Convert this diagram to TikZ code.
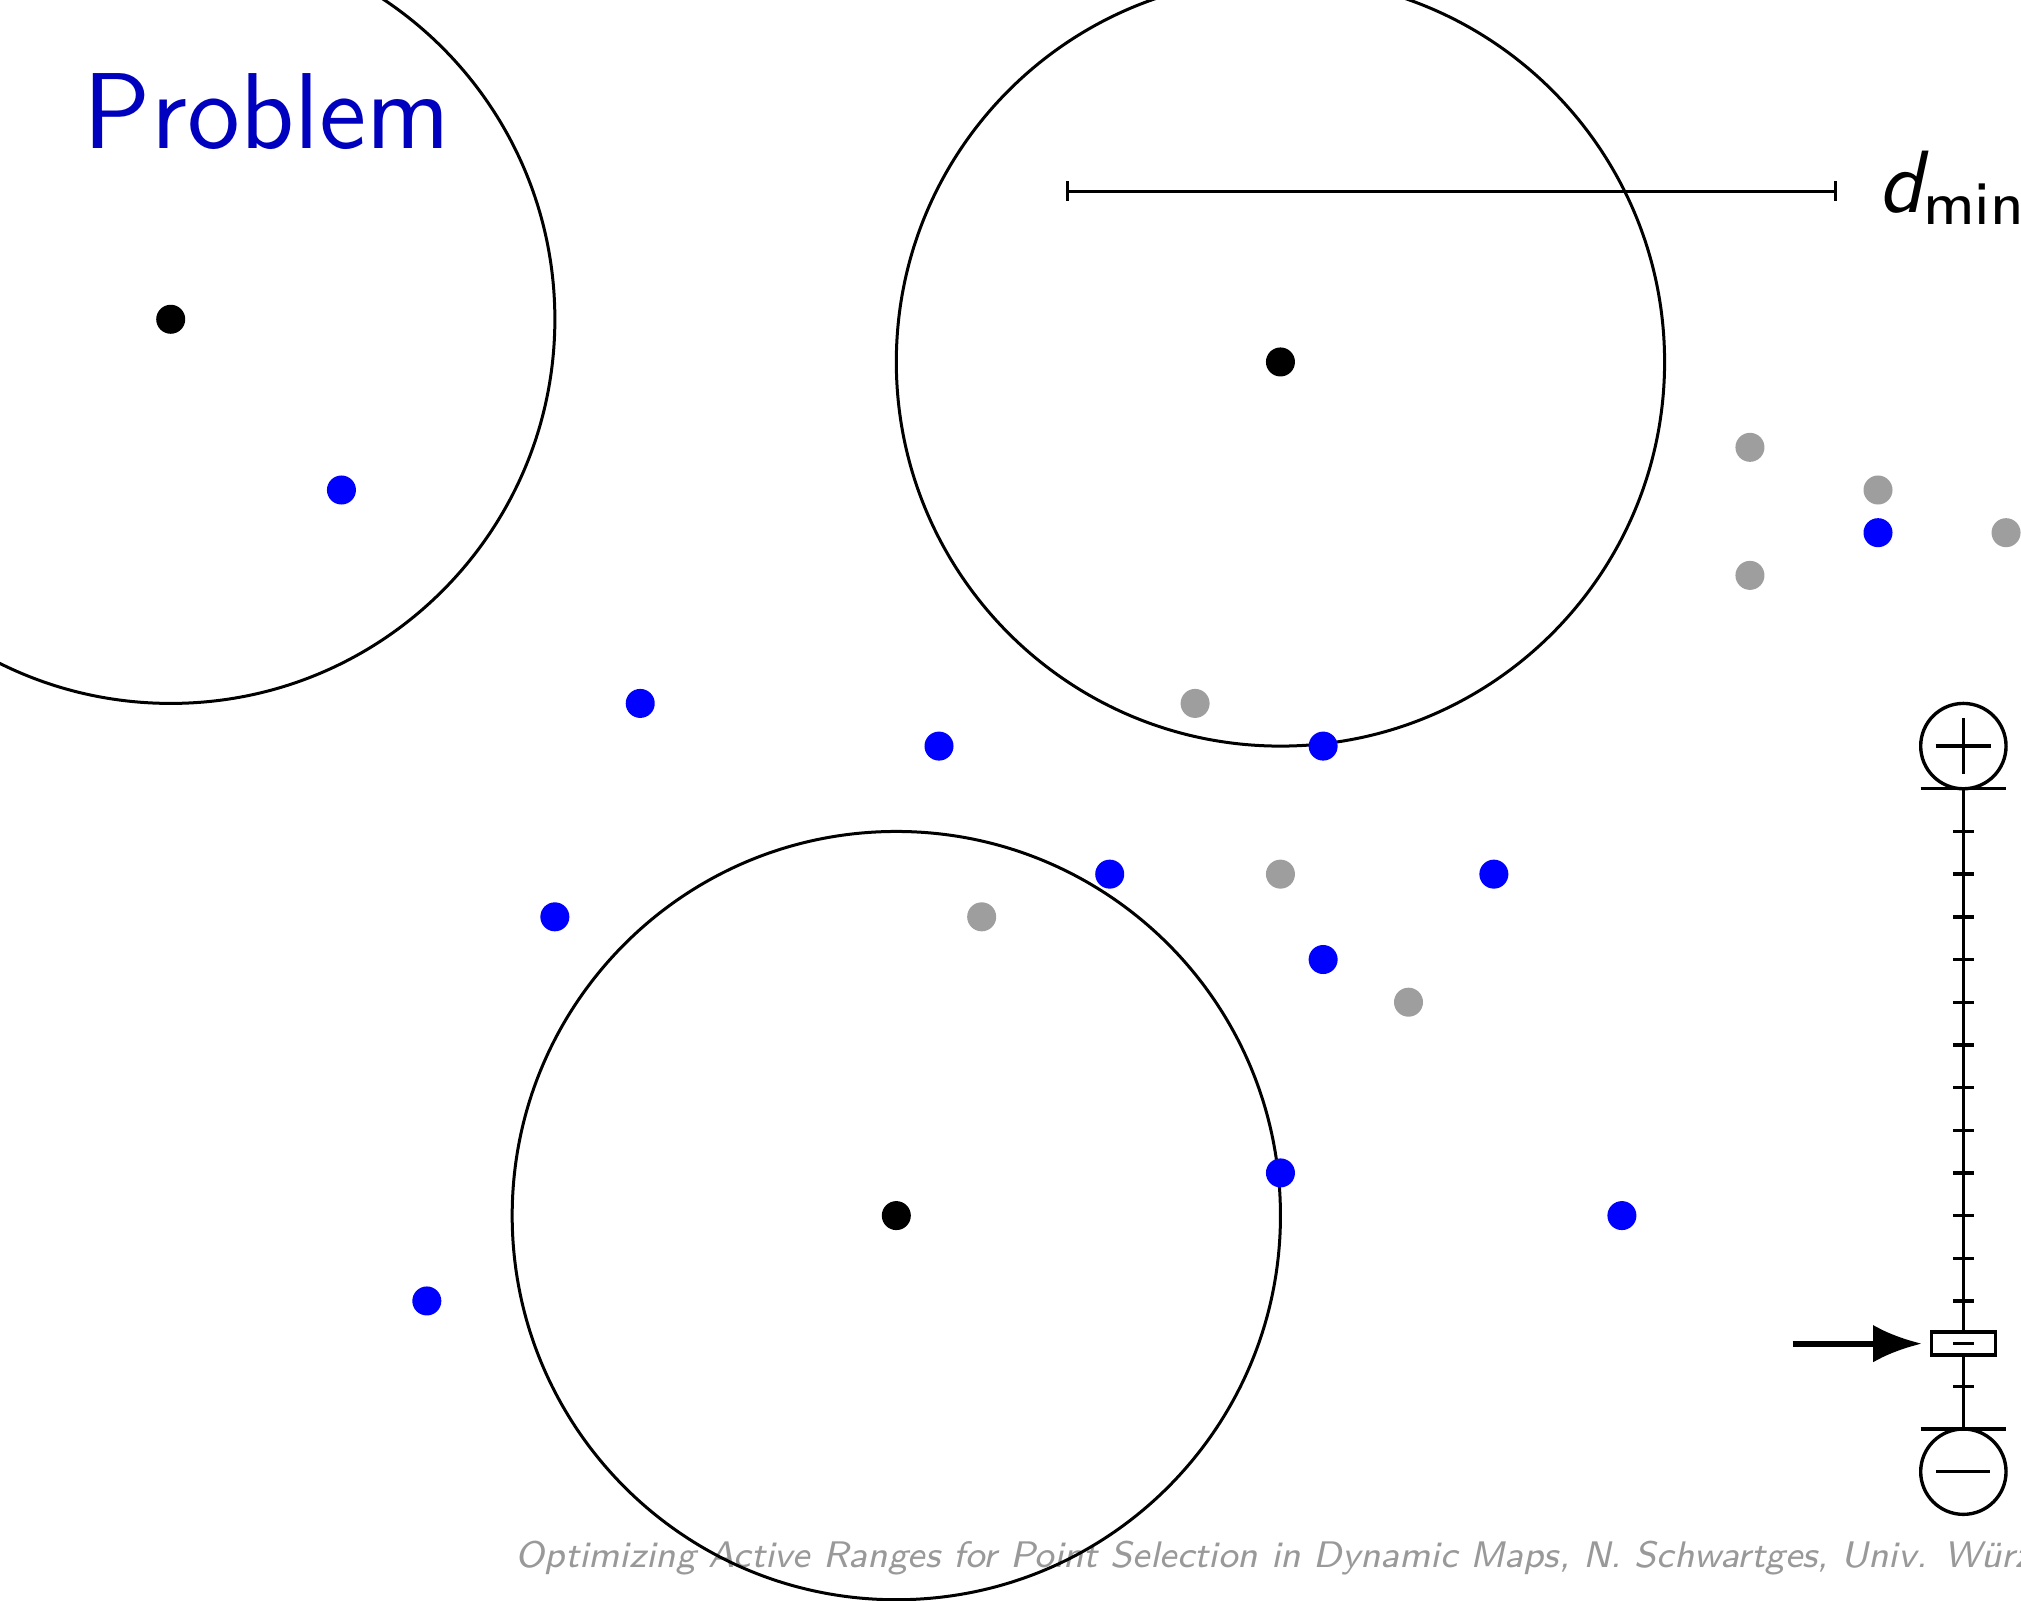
\documentclass[tikz,border=0pt]{standalone}
\usetikzlibrary{arrows.meta}
\definecolor{titleblue}{RGB}{0,0,191}
\begin{document}
\begin{tikzpicture}[x=0.2cm,y=-0.2cm,
  bdot/.style={circle,fill=blue,inner sep=0pt,minimum size=0.136cm},
  gdot/.style={circle,fill=black!38,inner sep=0pt,minimum size=0.136cm},
  kdot/.style={circle,fill=black,inner sep=0pt,minimum size=0.136cm},
  rangecircle/.style={circle,draw=black,line width=0.4pt,minimum size=3.6cm,inner sep=0pt},
  sl/.style={line width=0.45pt},
  knobsym/.style={circle,draw=black,line width=0.45pt,minimum size=0.4cm,inner sep=0pt}]
\useasboundingbox (0,-0.48) rectangle (47.35,37.01);
\clip (0,-0.48) rectangle (47.35,37.01);

% footer
\node[anchor=base west,inner sep=0pt,text=black!40,font=\fontsize{4.93}{6}\selectfont\sffamily\itshape] (foot) at (12.05,36.25) {Optimizing Active Ranges for Point Selection in Dynamic Maps, N. Schwartges, Univ. Würzburg};

% title
\node[anchor=base west,inner sep=0pt,text=titleblue,font=\fontsize{14.4}{17}\selectfont\sffamily] (title) at (1.93,3) {Problem};

% d_min bar
\coordinate (dl) at (25,4);
\coordinate (dr) at (43,4);
\draw[line width=0.4pt] (dl) -- (dr);
\draw[line width=0.4pt] ([yshift=0.046cm]dl) -- ([yshift=-0.046cm]dl);
\draw[line width=0.4pt] ([yshift=0.046cm]dr) -- ([yshift=-0.046cm]dr);
\node[anchor=base west,inner sep=0pt,font=\fontsize{11.8}{14}\selectfont\sffamily] (dmin) at (43.98,4.51) {\itshape d\raisebox{-0.055cm}{\fontsize{8.2}{10}\selectfont\upshape min}};

% ranges
\node[rangecircle] (r1) at (4,7) {};
\node[rangecircle] (r2) at (30,8) {};
\node[rangecircle] (r3) at (21,28) {};
\node[kdot] (c1) at (4,7) {};
\node[kdot] (c2) at (30,8) {};
\node[kdot] (c3) at (21,28) {};

% blue points
\node[bdot] (b1) at (8,11) {};
\node[bdot] (b2) at (15,16) {};
\node[bdot] (b3) at (22,17) {};
\node[bdot] (b4) at (31,17) {};
\node[bdot] (b5) at (26,20) {};
\node[bdot] (b6) at (35,20) {};
\node[bdot] (b7) at (13,21) {};
\node[bdot] (b8) at (31,22) {};
\node[bdot] (b9) at (30,27) {};
\node[bdot] (b10) at (38,28) {};
\node[bdot] (b11) at (10,30) {};
\node[bdot] (b12) at (44,12) {};

% gray points
\node[gdot] (g1) at (41,10) {};
\node[gdot] (g2) at (44,11) {};
\node[gdot] (g3) at (47,12) {};
\node[gdot] (g4) at (41,13) {};
\node[gdot] (g5) at (28,16) {};
\node[gdot] (g6) at (30,20) {};
\node[gdot] (g7) at (23,21) {};
\node[gdot] (g8) at (33,23) {};

% zoom slider
\coordinate (stop) at (46,18);
\coordinate (sbot) at (46,33);
\draw[sl] (stop) -- (sbot);
\draw[sl] ([xshift=-0.2cm]stop) -- ([xshift=0.2cm]stop);
\draw[sl] ([xshift=-0.2cm]sbot) -- ([xshift=0.2cm]sbot);
\foreach \k in {19,...,30,32} \draw[sl] (45.76,\k) -- (46.24,\k);
\node[knobsym] (plus) at (46,17) {};
\draw[sl] ([xshift=-0.13cm]plus.center) -- ([xshift=0.13cm]plus.center);
\draw[sl] ([yshift=-0.13cm]plus.center) -- ([yshift=0.13cm]plus.center);
\node[knobsym] (minus) at (46,34) {};
\draw[sl] ([xshift=-0.126cm]minus.center) -- ([xshift=0.126cm]minus.center);
\node[draw=black,line width=0.45pt,fill=white,minimum width=0.3cm,minimum height=0.108cm,inner sep=0pt] (knob) at (46,31) {};
\draw[sl] ([xshift=-0.048cm]knob.center) -- ([xshift=0.048cm]knob.center);
\coordinate (astart) at (42,31);
\draw[line width=0.8pt,-{Latex[length=6.5pt,width=5pt]},shorten >=0.036cm] (astart) -- (knob.west);
\end{tikzpicture}
\end{document}
